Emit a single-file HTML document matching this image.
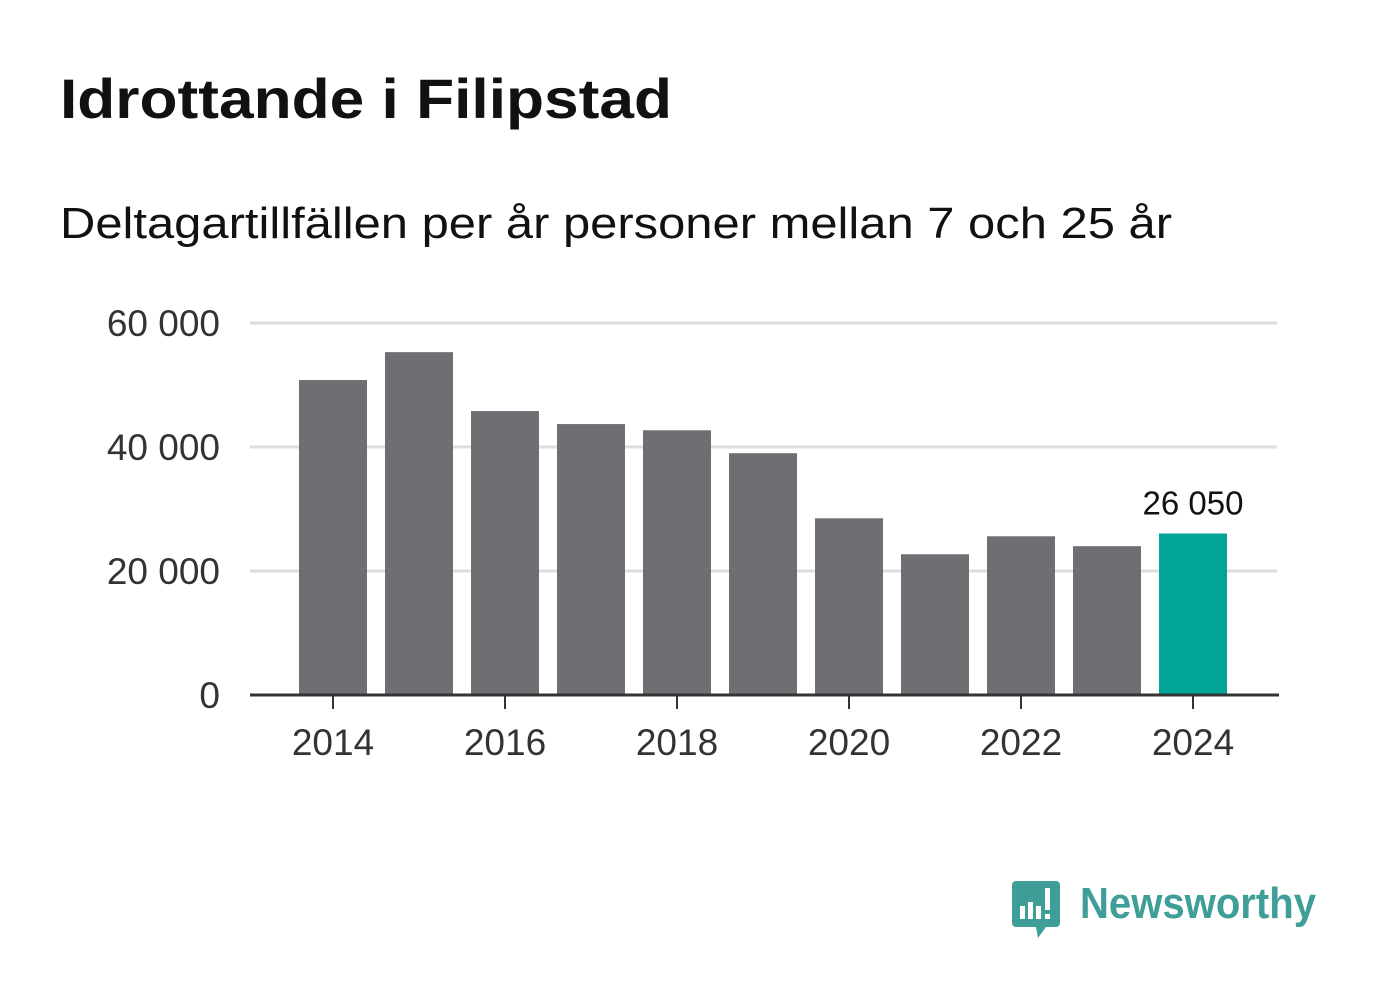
<!DOCTYPE html>
<html><head><meta charset="utf-8"><style>
body{margin:0;background:#fff;width:1382px;height:999px;overflow:hidden;font-family:"Liberation Sans",sans-serif}
</style></head><body>
<svg width="1382" height="999">
<text x="60" y="118" font-size="56" font-weight="bold" fill="#111" textLength="612" lengthAdjust="spacingAndGlyphs">Idrottande i Filipstad</text>
<text x="60" y="238" font-size="44" fill="#111" textLength="1112" lengthAdjust="spacingAndGlyphs">Deltagartillfällen per år personer mellan 7 och 25 år</text>
<g id="grid"></g><g id="bars"></g><g id="axes"></g>
<g>
<path d="M1016 881 h40 a4 4 0 0 1 4 4 v38 a4 4 0 0 1 -4 4 h-10 l-8 11 l-2 -11 h-20 a4 4 0 0 1 -4 -4 v-38 a4 4 0 0 1 4 -4z" fill="#3f9e97"/>
<rect x="1020" y="906" width="5" height="13" fill="#fff"/><rect x="1028" y="902" width="5" height="17" fill="#fff"/><rect x="1036" y="906" width="5" height="13" fill="#fff"/><rect x="1045" y="888" width="5" height="22" fill="#fff"/><rect x="1045" y="914" width="5" height="5" fill="#fff"/>
<text x="1080" y="918" font-size="44" font-weight="bold" fill="#3f9e97" textLength="236" lengthAdjust="spacingAndGlyphs">Newsworthy</text>
</g>
</svg>
<script>
const years=[2014,2015,2016,2017,2018,2019,2020,2021,2022,2023,2024];
const values=[50800,55300,45800,43700,42700,39000,28500,22700,25600,24000,26050];
const yTicks=[0,20000,40000,60000];
const yTickLabels=["0","20 000","40 000","60 000"];
const xTickYears=[2014,2016,2018,2020,2022,2024];
const NS="http://www.w3.org/2000/svg";
const y0=695,pxPer=124/20000;
const y=v=>y0-v*pxPer;
const x=yr=>333+(yr-2014)*86;
function mk(t,a,p){const e=document.createElementNS(NS,t);for(const k in a)e.setAttribute(k,a[k]);p.appendChild(e);return e;}
const grid=document.getElementById('grid'),bars=document.getElementById('bars'),axes=document.getElementById('axes');
yTicks.forEach((v,i)=>{
 if(v>0){const l=mk('line',{x1:250,x2:1277,y1:y(v),y2:y(v),stroke:'#ddd','stroke-width':3},grid);
 
 }
 const t=mk('text',{x:220,y:y(v)+13,'font-size':37,fill:'#333','text-anchor':'end'},axes);t.textContent=yTickLabels[i];
 
 
});
years.forEach((yr,i)=>{
 const last=i===years.length-1;
 const r=mk('rect',{x:x(yr)-34,y:y(values[i]),width:68,height:y0-y(values[i]),fill:last?'#00a598':'#6f6e73'},bars);
 
 
 if(last){const t=mk('text',{x:x(yr),y:y(values[i])-19,'font-size':33,fill:'#111','text-anchor':'middle'},bars);
 t.textContent=values[i].toLocaleString('sv-SE').replace(/\s/g,' ');
 
 }
});
const ax=mk('line',{x1:250,x2:1279,y1:y0,y2:y0,stroke:'#333','stroke-width':3},axes);


xTickYears.forEach(yr=>{
 mk('line',{x1:x(yr),x2:x(yr),y1:y0,y2:y0+14,stroke:'#333','stroke-width':2},axes);
 const t=mk('text',{x:x(yr),y:755,'font-size':37,fill:'#333','text-anchor':'middle'},axes);t.textContent=yr;
 
 
});
</script>
</body></html>
